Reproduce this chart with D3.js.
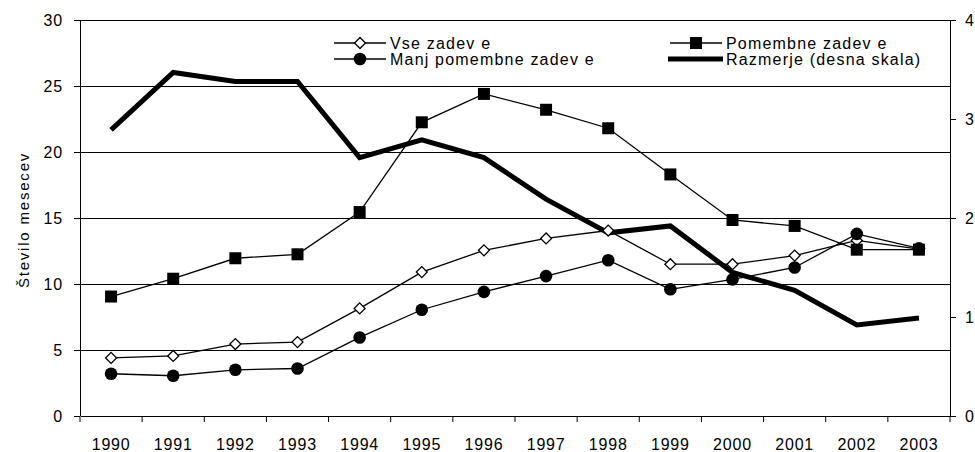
<!DOCTYPE html>
<html>
 <head>
  <style>
  body { margin: 0; background: #fff; }
  svg text { font-family: "Liberation Sans", Arial, sans-serif; fill: #000; }
  </style>
 </head>
 <body>
  <script src="https://cdnjs.cloudflare.com/ajax/libs/d3/7.8.3/d3.min.js"></script>
  <script>
   const years = ["1990","1991","1992","1993","1994","1995","1996","1997","1998","1999","2000","2001","2002","2003"];
   const vse = [4.4, 4.55, 5.45, 5.6, 8.15, 10.9, 12.55, 13.45, 14.05, 11.5, 11.5, 12.15, 13.3, 12.65];
   const pomembne = [9.05, 10.4, 11.95, 12.25, 15.45, 22.25, 24.4, 23.2, 21.8, 18.3, 14.85, 14.4, 12.6, 12.6];
   const manj = [3.2, 3.05, 3.5, 3.6, 5.95, 8.05, 9.4, 10.6, 11.8, 9.6, 10.35, 11.25, 13.8, 12.7];
   const razmerje = [2.89, 3.47, 3.38, 3.38, 2.61, 2.79, 2.61, 2.19, 1.85, 1.92, 1.45, 1.27, 0.92, 0.99];
   const leftTicks = [0, 5, 10, 15, 20, 25, 30];
   const rightTicks = [0, 1, 2, 3, 4];

   const w = 975, h = 452;
   const padL = 80, padR = 950, padT = 20, padB = 416;

   const svg = d3.select("body").append("svg").attr("width", w).attr("height", h);

   const x = d3.scaleBand().domain(years).range([padL, padR]);
   const yL = d3.scaleLinear().domain([0, 30]).range([padB, padT]);
   const yR = d3.scaleLinear().domain([0, 4]).range([padB, padT]);
   const cx = d => x(d) + x.bandwidth() / 2;

   // grid
   svg.append("g").selectAll("line").data(leftTicks.slice(1)).enter().append("line")
      .attr("x1", padL).attr("x2", padR)
      .attr("y1", d => yL(d)).attr("y2", d => yL(d))
      .attr("stroke", "#000").attr("stroke-width", 1).attr("shape-rendering", "crispEdges");

   const yAxis = svg.append("g")
      .attr("transform", "translate(" + padL + ",0)")
      .call(d3.axisLeft(yL).tickValues(leftTicks).tickSize(6).tickPadding(11));
   const yAxisR = svg.append("g")
      .attr("transform", "translate(" + padR + ",0)")
      .call(d3.axisRight(yR).tickValues(rightTicks).tickFormat(d3.format("d")).tickSize(6).tickPadding(9));
   const xAxis = svg.append("g")
      .attr("transform", "translate(0," + padB + ")")
      .call(d3.axisBottom(x).tickSize(0).tickPadding(23));
   // x ticks at band boundaries
   xAxis.selectAll(".edge").data(years.concat(["end"])).enter().append("line")
      .attr("x1", (d, i) => padL + i * x.step()).attr("x2", (d, i) => padL + i * x.step())
      .attr("y1", 0).attr("y2", 6).attr("stroke", "#000");

   [yAxis, yAxisR, xAxis].forEach(g => {
     g.select(".domain").attr("stroke", "#000").attr("shape-rendering", "crispEdges");
     g.selectAll(".tick line").attr("stroke", "#000");
     g.selectAll("text").style("font-size", "16px").style("letter-spacing", "0.8px")
      .attr("font-family", "Liberation Sans");
   });
   yAxisR.select(".domain").attr("d", "M0," + padT + "V" + padB);
   yAxis.select(".domain").attr("d", "M0," + padT + "V" + padB);

   svg.append("text")
      .attr("transform", "translate(29,220) rotate(-90)")
      .attr("text-anchor", "middle")
      .style("font-size", "15px").style("letter-spacing", "1.8px")
      .text("Število mesecev");

   const lineL = d3.line().x((d, i) => cx(years[i])).y(d => yL(d));
   const lineR = d3.line().x((d, i) => cx(years[i])).y(d => yR(d));

   svg.append("path").datum(razmerje).attr("d", lineR)
      .attr("fill", "none").attr("stroke", "#000").attr("stroke-width", 5)
      .attr("stroke-linejoin", "miter");

   const diamond = d3.symbol().type(d3.symbolSquare).size(60);
   function series(data, kind) {
     svg.append("path").datum(data).attr("d", lineL)
        .attr("fill", "none").attr("stroke", "#000").attr("stroke-width", 1.3);
     const g = svg.append("g");
     data.forEach((v, i) => drawMarker(g, cx(years[i]), yL(v), kind));
   }
   function drawMarker(g, px, py, kind) {
     if (kind === "diamond") {
       g.append("path").attr("d", diamond())
        .attr("transform", "translate(" + px + "," + py + ") rotate(45)")
        .attr("fill", "#fff").attr("stroke", "#000").attr("stroke-width", 1.3);
     } else if (kind === "square") {
       g.append("rect").attr("x", px - 6).attr("y", py - 6).attr("width", 12).attr("height", 12)
        .attr("fill", "#000");
     } else {
       g.append("circle").attr("cx", px).attr("cy", py).attr("r", 6.3).attr("fill", "#000");
     }
   }
   series(vse, "diamond");
   series(pomembne, "square");
   series(manj, "circle");

   // legend
   const legend = [
     {name: "Vse zadev e", kind: "diamond", x: 334, y: 43},
     {name: "Manj pomembne zadev e", kind: "circle", x: 334, y: 59},
     {name: "Pomembne zadev e", kind: "square", x: 670, y: 43},
     {name: "Razmerje (desna skala)", kind: "thick", x: 670, y: 59}
   ];
   const lg = svg.append("g");
   legend.forEach(d => {
     if (d.kind === "thick") {
       lg.append("line").attr("x1", d.x - 2).attr("x2", d.x + 53).attr("y1", d.y).attr("y2", d.y)
         .attr("stroke", "#000").attr("stroke-width", 5);
     } else {
       lg.append("line").attr("x1", d.x).attr("x2", d.x + 52).attr("y1", d.y).attr("y2", d.y)
         .attr("stroke", "#000").attr("stroke-width", 1.3);
       drawMarker(lg, d.x + 26, d.y, d.kind);
     }
     lg.append("text").attr("x", d.x + 56).attr("y", d.y + 5.5)
       .style("font-size", "16px").style("letter-spacing", "1.2px").text(d.name);
   });
  </script>
 </body>
</html>
